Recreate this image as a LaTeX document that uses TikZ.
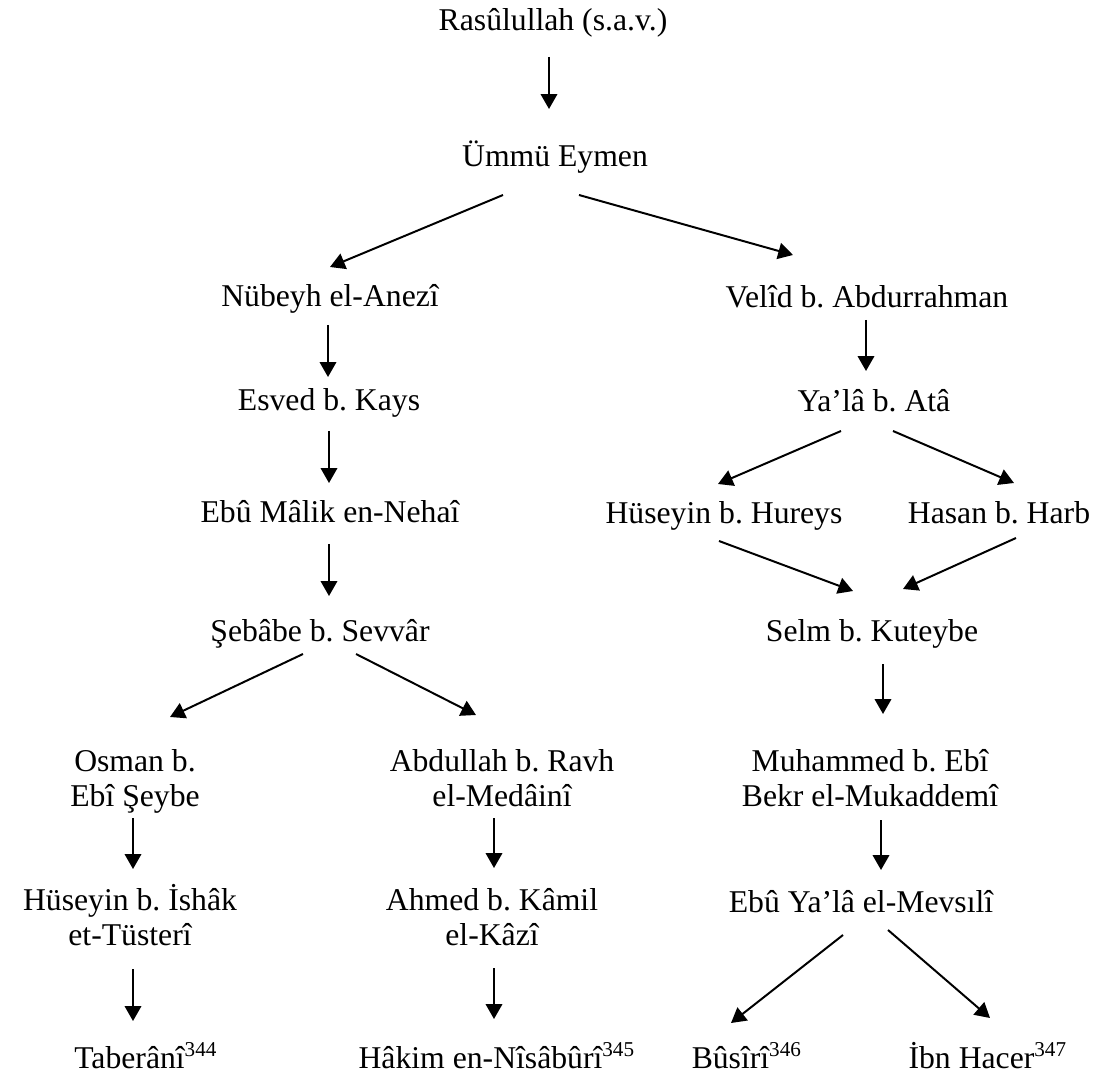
\documentclass[tikz,border=0pt]{standalone}
\usepackage{fontspec}
\setmainfont{Liberation Serif}
\frenchspacing
\usetikzlibrary{arrows.meta}
\tikzstyle{ravi} = [inner sep=0pt, anchor=base, align=center, font=\fontsize{12}{13.25}\selectfont]
\tikzstyle{isnad} = [line width=0.75pt, -{Triangle[length=5.6pt,width=6.2pt]}]

\begin{document}
\begin{tikzpicture}[x=0.0133cm, y=-0.0133cm]
            \useasboundingbox (0,0) rectangle (1097,1082);
            % top of the chain
            \node(rasul)[ravi] at (553,31) {Rasûlullah (s.a.v.)};
            \node(ummu)[ravi] at (555,167) {Ümmü Eymen};
            % left branch
            \node(nubeyh)[ravi] at (330,307) {Nübeyh el-Anezî};
            \node(esved)[ravi] at (329,411) {Esved b. Kays};
            \node(ebumalik)[ravi] at (330,523) {Ebû Mâlik en-Nehaî};
            \node(sebabe)[ravi] at (320,641) {Şebâbe b. Sevvâr};
            \node(osman)[ravi] at (135,806) {Osman b.\\Ebî Şeybe};
            \node(abdullah)[ravi] at (502,806) {Abdullah b. Ravh\\el-Medâinî};
            \node(huseyini)[ravi] at (130,945) {Hüseyin b. İshâk\\et-Tüsterî};
            \node(ahmed)[ravi] at (492,945) {Ahmed b. Kâmil\\el-Kâzî};
            \node(taberani)[ravi] at (146,1068) {Taberânî\textsuperscript{344}};
            \node(hakim)[ravi] at (497,1068) {Hâkim en-Nîsâbûrî\textsuperscript{345}};
            % right branch
            \node(velid)[ravi] at (867,308) {Velîd b. Abdurrahman};
            \node(yala)[ravi] at (874,412) {Ya’lâ b. Atâ};
            \node(huseyinh)[ravi] at (724,524) {Hüseyin b. Hureys};
            \node(hasan)[ravi] at (999,524) {Hasan b. Harb};
            \node(selm)[ravi] at (872,641) {Selm b. Kuteybe};
            \node(muhammed)[ravi] at (870,806) {Muhammed b. Ebî\\Bekr el-Mukaddemî};
            \node(ebuyala)[ravi] at (861,912) {Ebû Ya’lâ el-Mevsılî};
            \node(busiri)[ravi] at (747,1068) {Bûsîrî\textsuperscript{346}};
            \node(ibnhacer)[ravi] at (988,1068) {İbn Hacer\textsuperscript{347}};
            % arrows
            \draw[isnad]([shift={(-4,26)}]rasul.base)--([shift={(-6,-58)}]ummu.base);
            \draw[isnad]([shift={(-52,28)}]ummu.base)--([shift={(0,-40)}]nubeyh.base);
            \draw[isnad]([shift={(24,28)}]ummu.base)--([shift={(-74,-53)}]velid.base);
            \draw[isnad]([shift={(-2,18)}]nubeyh.base)--([shift={(-1,-34)}]esved.base);
            \draw[isnad]([shift={(0,20)}]esved.base)--([shift={(-1,-40)}]ebumalik.base);
            \draw[isnad]([shift={(-1,21)}]ebumalik.base)--([shift={(9,-45)}]sebabe.base);
            \draw[isnad]([shift={(-17,13)}]sebabe.base)--([shift={(35,-89)}]osman.base);
            \draw[isnad]([shift={(36,13)}]sebabe.base)--([shift={(-26,-91)}]abdullah.base);
            \draw[isnad]([shift={(-2,12)}]osman.base)--([shift={(3,-76)}]huseyini.base);
            \draw[isnad]([shift={(-8,12)}]abdullah.base)--([shift={(2,-77)}]ahmed.base);
            \draw[isnad]([shift={(3,24)}]huseyini.base)--([shift={(-13,-47)}]taberani.base);
            \draw[isnad]([shift={(2,23)}]ahmed.base)--([shift={(-3,-49)}]hakim.base);
            \draw[isnad]([shift={(-1,12)}]velid.base)--([shift={(-8,-41)}]yala.base);
            \draw[isnad]([shift={(-33,19)}]yala.base)--([shift={(-6,-40)}]huseyinh.base);
            \draw[isnad]([shift={(19,19)}]yala.base)--([shift={(15,-41)}]hasan.base);
            \draw[isnad]([shift={(-5,17)}]huseyinh.base)--([shift={(-19,-50)}]selm.base);
            \draw[isnad]([shift={(17,14)}]hasan.base)--([shift={(31,-52)}]selm.base);
            \draw[isnad]([shift={(11,23)}]selm.base)--([shift={(13,-92)}]muhammed.base);
            \draw[isnad]([shift={(11,14)}]muhammed.base)--([shift={(20,-42)}]ebuyala.base);
            \draw[isnad]([shift={(-18,23)}]ebuyala.base)--([shift={(-16,-45)}]busiri.base);
            \draw[isnad]([shift={(27,18)}]ebuyala.base)--([shift={(2,-50)}]ibnhacer.base);
        \end{tikzpicture}
\end{document}
